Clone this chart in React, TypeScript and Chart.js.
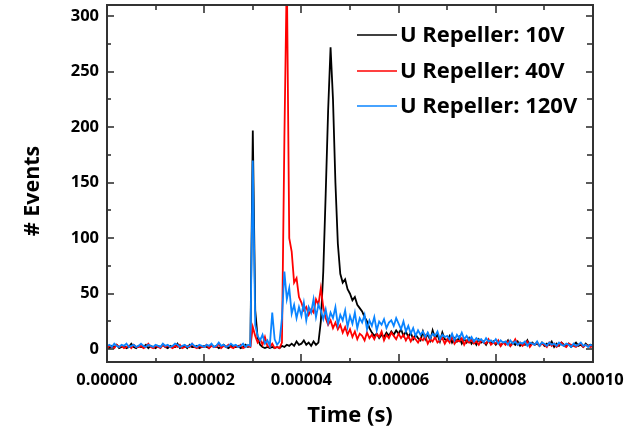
import React, { useEffect, useRef } from 'react';
import { Chart, registerables } from 'chart.js';

Chart.register(...registerables);

// Sampling grid (microseconds)
const T_START_US = 0;
const T_STEP_US = 0.5;

const X_TICKS = [0, 0.00002, 0.00004, 0.00006, 0.00008, 0.0001];
const X_MINOR = [0.00001, 0.00003, 0.00005, 0.00007, 0.00009];
const Y_TICKS = [0, 50, 100, 150, 200, 250, 300];
const Y_MINOR = [25, 75, 125, 175, 225, 275];

const X_TITLE = 'Time (s)';
const Y_TITLE = '# Events';
const SERIES_NAMES = ['U Repeller: 10V', 'U Repeller: 40V', 'U Repeller: 120V'];
const SERIES_COLORS = ['#000000', '#ff0000', '#0a84ff'];

const EVENTS_10V = [
  2, 1, 3, 2, 4, 1, 2, 3, 1, 2, 5, 2, 1, 3, 2, 2, 4, 1, 3, 2,
  1, 3, 2, 4, 2, 1, 3, 2, 2, 5, 1, 2, 3, 1, 4, 2, 2, 3, 1, 2,
  3, 2, 1, 4, 2, 3, 1, 2, 4, 2, 1, 3, 2, 2, 3, 1, 2, 4, 2, 3,
  197, 35, 10, 4, 2, 1, 2, 1, 2, 1, 2, 1, 3, 2, 4, 3, 5, 3, 7, 4,
  5, 8, 4, 6, 3, 7, 4, 6, 25, 70, 140, 215, 272, 225, 150, 95, 68, 60, 63, 54,
  50, 44, 47, 40, 37, 34, 29, 25, 19, 15, 12, 14, 10, 13, 11, 15, 12, 16, 13, 17,
  14, 18, 12, 16, 11, 15, 9, 13, 10, 8, 16, 9, 14, 8, 17, 10, 13, 7, 15, 9,
  8, 12, 6, 10, 7, 11, 5, 9, 6, 10, 5, 8, 4, 9, 6, 7, 4, 8, 5, 7,
  4, 7, 3, 6, 5, 8, 3, 6, 4, 7, 3, 5, 4, 8, 3, 6, 4, 5, 3, 6,
  3, 5, 4, 7, 2, 5, 3, 6, 4, 3, 5, 2, 4, 6, 3, 4, 2, 5, 3, 4, 3,
];

const EVENTS_40V = [
  1, 3, 2, 1, 4, 2, 3, 1, 2, 3, 1, 4, 2, 2, 3, 1, 2, 5, 2, 1,
  3, 2, 1, 4, 2, 3, 2, 1, 3, 2, 4, 1, 2, 3, 2, 5, 2, 1, 3, 2,
  2, 4, 1, 3, 2, 2, 5, 1, 3, 2, 4, 2, 1, 3, 2, 4, 1, 2, 3, 2,
  20, 12, 6, 9, 4, 11, 3, 2, 5, 1, 2, 1, 6, 190, 340, 100, 88, 60, 64, 47,
  42, 35, 38, 31, 36, 33, 45, 40, 55, 38, 28, 22, 26, 19, 24, 18, 22, 15, 20, 13,
  18, 11, 16, 9, 14, 12, 8, 15, 10, 13, 9, 14, 11, 16, 8, 13, 10, 15, 12, 9,
  14, 10, 13, 8, 12, 7, 11, 9, 6, 10, 8, 12, 5, 9, 7, 11, 6, 8, 10, 5,
  9, 6, 12, 5, 8, 7, 10, 4, 8, 6, 9, 5, 7, 4, 8, 6, 5, 9, 4, 6,
  5, 8, 3, 6, 4, 7, 3, 5, 9, 4, 6, 3, 5, 7, 2, 5, 4, 6, 3, 5,
  4, 2, 6, 3, 5, 2, 4, 6, 3, 2, 5, 4, 3, 2, 4, 5, 2, 4, 3, 2, 3,
];

const EVENTS_120V = [
  3, 4, 2, 5, 3, 2, 4, 3, 5, 2, 3, 4, 2, 3, 5, 3, 2, 4, 3, 2,
  4, 3, 2, 5, 3, 4, 2, 3, 5, 4, 2, 3, 4, 2, 3, 5, 3, 2, 4, 3,
  2, 4, 3, 5, 2, 3, 6, 3, 4, 2, 3, 5, 3, 4, 2, 3, 5, 2, 4, 3,
  170, 22, 12, 8, 13, 5, 8, 3, 33, 9, 4, 7, 28, 70, 45, 55, 32, 40, 28, 38,
  30, 42, 26, 38, 33, 45, 29, 40, 35, 27, 36, 24, 33, 28, 38, 22, 31, 26, 35, 20,
  30, 23, 33, 19, 28, 24, 31, 18, 26, 21, 29, 17, 25, 22, 27, 19, 24, 26, 21, 28,
  23, 18, 25, 16, 21, 14, 19, 12, 17, 13, 16, 11, 15, 10, 14, 12, 16, 9, 13, 11,
  12, 9, 14, 8, 13, 10, 15, 9, 12, 8, 11, 7, 10, 8, 9, 6, 10, 7, 8, 6,
  9, 5, 8, 6, 7, 4, 8, 5, 7, 4, 6, 5, 7, 3, 6, 5, 4, 7, 3, 6,
  5, 3, 6, 4, 5, 3, 6, 4, 3, 5, 4, 2, 5, 3, 4, 6, 3, 4, 2, 4, 3,
];

const FONT = "'Open Sans', 'Liberation Sans', sans-serif";
const AXIS_COLOR = '#333333';

const framePlugin = {
  id: 'frameTicks',
  afterDatasetsDraw(chart: any) {
    const { ctx, chartArea: a, scales } = chart;
    const xs = scales.x;
    const ys = scales.y;
    ctx.save();
    ctx.strokeStyle = AXIS_COLOR;
    ctx.lineWidth = 2;
    ctx.strokeRect(a.left, a.top, a.right - a.left, a.bottom - a.top);
    ctx.lineWidth = 1.6;
    const seg = (x1: number, y1: number, x2: number, y2: number) => {
      ctx.beginPath();
      ctx.moveTo(x1, y1);
      ctx.lineTo(x2, y2);
      ctx.stroke();
    };
    X_TICKS.forEach((v) => {
      const p = Math.round(xs.getPixelForValue(v));
      seg(p, a.bottom, p, a.bottom - 8);
      seg(p, a.top, p, a.top + 8);
    });
    X_MINOR.forEach((v) => {
      const p = Math.round(xs.getPixelForValue(v));
      seg(p, a.bottom, p, a.bottom - 4);
      seg(p, a.top, p, a.top + 5);
    });
    Y_TICKS.forEach((v) => {
      const p = Math.round(ys.getPixelForValue(v));
      seg(a.left, p, a.left + 7, p);
      seg(a.right, p, a.right - 7, p);
    });
    Y_MINOR.forEach((v) => {
      const p = Math.round(ys.getPixelForValue(v));
      seg(a.left, p, a.left + 4, p);
      seg(a.right, p, a.right - 6, p);
    });
    ctx.restore();
  },
  afterDraw(chart: any) {
    const { ctx } = chart;
    ctx.save();
    // y-axis title
    ctx.fillStyle = '#000';
    ctx.font = `bold 21.5px ${FONT}`;
    ctx.textAlign = 'center';
    ctx.textBaseline = 'middle';
    ctx.translate(33, 191);
    ctx.rotate(-Math.PI / 2);
    ctx.fillText(Y_TITLE, 0, 0);
    ctx.restore();

    ctx.save();
    ctx.font = `bold 22px ${FONT}`;
    ctx.textBaseline = 'middle';
    ctx.textAlign = 'left';
    const rows = [35, 71, 106];
    chart.data.datasets.forEach((ds: any, i: number) => {
      const y = rows[i];
      ctx.strokeStyle = ds.borderColor;
      ctx.lineWidth = 1.5;
      ctx.beginPath();
      ctx.moveTo(357, y);
      ctx.lineTo(397, y);
      ctx.stroke();
      ctx.fillStyle = '#000';
      ctx.fillText(ds.label, 400, y + 1);
    });
    ctx.restore();
  },
};

export default function App() {
  const ref = useRef<HTMLCanvasElement>(null);

  useEffect(() => {
    if (!ref.current) return;
    const times = EVENTS_10V.map((_, i) => (T_START_US + i * T_STEP_US) * 1e-6);
    const toPoints = (vals: number[]) => vals.map((v, i) => ({ x: times[i], y: v }));
    const seriesValues = [EVENTS_10V, EVENTS_40V, EVENTS_120V];
    const chart = new Chart(ref.current, {
      type: 'line',
      data: {
        datasets: seriesValues.map((vals, i) => ({
          label: SERIES_NAMES[i],
          data: toPoints(vals),
          borderColor: SERIES_COLORS[i],
          backgroundColor: SERIES_COLORS[i],
          borderWidth: 1.8,
          pointRadius: 0,
          tension: 0,
          fill: false,
          order: 2 - i,
        })),
      },
      options: {
        animation: false,
        responsive: false,
        maintainAspectRatio: false,
        events: [],
        layout: { padding: { top: 5, right: 40, left: 0, bottom: 0 } },
        plugins: {
          legend: { display: false },
          tooltip: { enabled: false },
        },
        scales: {
          x: {
            type: 'linear',
            min: 0,
            max: 0.0001,
            grid: { display: false, drawTicks: false },
            border: { display: false },
            afterBuildTicks: (s: any) => {
              s.ticks = X_TICKS.map((v) => ({ value: v }));
            },
            afterFit: (s: any) => {
              s.height = 70;
              s.paddingLeft = 0;
              s.paddingRight = 0;
            },
            ticks: {
              padding: 8,
              maxRotation: 0,
              minRotation: 0,
              autoSkip: false,
              color: '#000',
              font: { family: FONT, size: 16.5, weight: 'bold' },
              callback: (v: any) => Number(v).toFixed(5),
            },
            title: {
              display: true,
              text: X_TITLE,
              color: '#000',
              font: { family: FONT, size: 22, weight: 'bold' },
              padding: { top: 0, bottom: 3 },
            },
          },
          y: {
            type: 'linear',
            min: -11.5,
            max: 310,
            grid: { display: false, drawTicks: false },
            border: { display: false },
            afterBuildTicks: (s: any) => {
              s.ticks = Y_TICKS.map((v) => ({ value: v }));
            },
            afterFit: (s: any) => {
              s.width = 107;
              s.paddingTop = 0;
              s.paddingBottom = 0;
            },
            ticks: {
              padding: 8,
              autoSkip: false,
              color: '#000',
              font: { family: FONT, size: 16.5, weight: 'bold' },
              callback: (v: any) => String(v),
            },
            title: { display: false },
          },
        },
      },
      plugins: [framePlugin],
    } as any);
    return () => chart.destroy();
  }, []);

  return (
    <div style={{ position: 'fixed', left: 0, top: 0, width: 633, height: 432, background: '#fff' }}>
      <canvas ref={ref} width={633} height={432} style={{ display: 'block' }} />
    </div>
  );
}
